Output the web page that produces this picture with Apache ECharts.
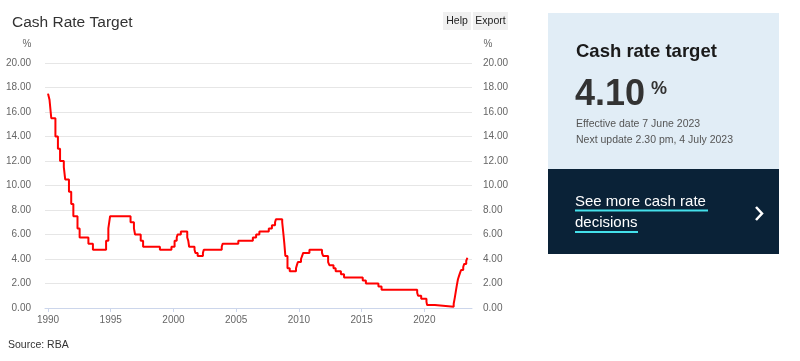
<!DOCTYPE html>
<html><head><meta charset="utf-8">
<script src="https://cdn.jsdelivr.net/npm/echarts@6/dist/echarts.min.js"></script>
<style>html,body{margin:0;padding:0;background:#fff}#c{width:800px;height:361px}</style>
</head><body><div id="c"></div>
<script>
// Change dates (decimal years) and cash rate target values (%)
const changeDates = [1990.00,1990.12,1990.26,1990.59,1990.79,1990.96,1991.26,1991.37,1991.67,1991.85,
 1992.02,1992.35,1992.52,1993.22,1993.58,1994.63,1994.81,1994.95,1996.58,1996.85,1996.94,1997.39,1997.58,
 1998.92,1999.84,2000.09,2000.26,2000.33,2000.59,2001.10,2001.18,2001.25,2001.68,2001.75,2001.93,2002.35,
 2002.42,2003.85,2003.92,2005.17,2006.33,2006.59,2006.85,2007.60,2007.85,2008.10,2008.17,2008.67,2008.77,
 2008.84,2008.92,2009.09,2009.27,2009.77,2009.84,2009.92,2010.17,2010.26,2010.34,2010.84,2011.84,2011.93,
 2012.33,2012.43,2012.76,2012.93,2013.35,2013.60,2015.09,2015.34,2016.34,2016.59,2019.43,2019.50,2019.75,
 2020.17,2020.22,2020.84,2022.34,2022.43,2022.51,2022.59,2022.68,2022.76,2022.84,2022.93,2023.10,2023.18,
 2023.34,2023.43,2023.46];
const rates = [17.5,17.0,15.5,14.0,13.0,12.0,11.5,10.5,9.5,8.5,
 7.5,6.5,5.75,5.25,4.75,5.5,6.5,7.5,7.0,6.5,6.0,5.5,5.0,
 4.75,5.0,5.5,5.75,6.0,6.25,5.75,5.5,5.0,4.75,4.5,4.25,4.5,
 4.75,5.0,5.25,5.5,5.75,6.0,6.25,6.5,6.75,7.0,7.25,7.0,6.0,
 5.25,4.25,3.25,3.0,3.25,3.5,3.75,4.0,4.25,4.5,4.75,4.5,4.25,
 3.75,3.5,3.25,3.0,2.75,2.5,2.25,2.0,1.75,1.5,1.25,1.0,0.75,
 0.5,0.25,0.1,0.35,0.85,1.35,1.85,2.35,2.6,2.85,3.1,3.35,3.6,
 3.85,4.1,4.1];
const xTickYears = [1990,1995,2000,2005,2010,2015,2020];
const yTicks = [0,2,4,6,8,10,12,14,16,18,20];

const chart = echarts.init(document.getElementById('c'), null, {renderer:'canvas'});
const FONT = 'Liberation Sans, Arial, sans-serif';
const lbl = {color:'#666', fontSize:10, fontFamily:FONT, formatter:v=>v.toFixed(2)};
chart.setOption({
  animation:false,
  title:{text:'Cash Rate Target', left:7, top:10, textStyle:{fontSize:15.5, fontWeight:'normal', color:'#333', fontFamily:FONT}},
  grid:{left:45, right:328, top:63, bottom:53},
  xAxis:{type:'value', min:1989.76, max:2023.8,
    axisLine:{lineStyle:{color:'#ccd6eb'}},
    axisTick:{show:true, length:4, lineStyle:{color:'#ccd6eb'}, customValues:xTickYears},
    axisLabel:{color:'#666', fontSize:10, fontFamily:FONT, margin:7, customValues:xTickYears, formatter:v=>String(v)},
    splitLine:{show:false}},
  yAxis:[
    {type:'value', min:0, max:20, interval:2, position:'left',
     axisLine:{show:false}, axisTick:{show:false},
     axisLabel:Object.assign({margin:14}, lbl),
     splitLine:{lineStyle:{color:'#e6e6e6'}}},
    {type:'value', min:0, max:20, interval:2, position:'right',
     axisLine:{show:false}, axisTick:{show:false},
     axisLabel:Object.assign({margin:11}, lbl),
     splitLine:{show:false}}
  ],
  series:[{type:'line', step:'end', yAxisIndex:0, showSymbol:false,
    lineStyle:{color:'#ff0000', width:2}, data:changeDates.map((d,i)=>[d,rates[i]])}],
  graphic:[
    {type:'text', x:27, y:44, style:{text:'%', fill:'#666', font:'10px '+FONT, align:'center', verticalAlign:'middle'}},
    {type:'text', x:488, y:44, style:{text:'%', fill:'#666', font:'10px '+FONT, align:'center', verticalAlign:'middle'}},
    {type:'rect', shape:{x:443, y:12, width:28, height:18}, style:{fill:'#f0f0f0'}},
    {type:'text', x:457, y:21, style:{text:'Help', fill:'#222', font:'10.5px '+FONT, align:'center', verticalAlign:'middle'}},
    {type:'rect', shape:{x:473, y:12, width:35, height:18}, style:{fill:'#f0f0f0'}},
    {type:'text', x:490.5, y:21, style:{text:'Export', fill:'#222', font:'10.5px '+FONT, align:'center', verticalAlign:'middle'}},
    {type:'text', x:8, y:345, style:{text:'Source: RBA', fill:'#333', font:'10.5px '+FONT, verticalAlign:'middle'}},
    {type:'rect', shape:{x:548, y:13, width:231, height:156}, style:{fill:'#e1edf6'}},
    {type:'rect', shape:{x:548, y:169, width:231, height:85}, style:{fill:'#0a2237'}},
    {type:'text', x:576, y:51.5, style:{text:'Cash rate target', fill:'#1a1a1a', font:'bold 18.5px '+FONT, verticalAlign:'middle'}},
    {type:'text', x:575, y:95, style:{text:'4.10', fill:'#333', font:'bold 36px '+FONT, verticalAlign:'middle'}},
    {type:'text', x:651, y:89, style:{text:'%', fill:'#333', font:'bold 18px '+FONT, verticalAlign:'middle'}},
    {type:'text', x:576, y:124, style:{text:'Effective date 7 June 2023', fill:'#555', font:'10.5px '+FONT, verticalAlign:'middle'}},
    {type:'text', x:576, y:140.5, style:{text:'Next update 2.30 pm, 4 July 2023', fill:'#555', font:'10.5px '+FONT, verticalAlign:'middle'}},
    {type:'text', x:575, y:202, style:{text:'See more cash rate', fill:'#fff', font:'15px '+FONT, verticalAlign:'middle'}},
    {type:'rect', shape:{x:575, y:209.5, width:133, height:2}, style:{fill:'#44e0ea'}},
    {type:'text', x:575, y:223, style:{text:'decisions', fill:'#fff', font:'15px '+FONT, verticalAlign:'middle'}},
    {type:'rect', shape:{x:575, y:231, width:63, height:2}, style:{fill:'#44e0ea'}},
    {type:'polyline', shape:{points:[[756,207],[762,213.5],[756,220]]}, style:{stroke:'#fff', lineWidth:2.5, fill:null}}
  ]
});
</script></body></html>
